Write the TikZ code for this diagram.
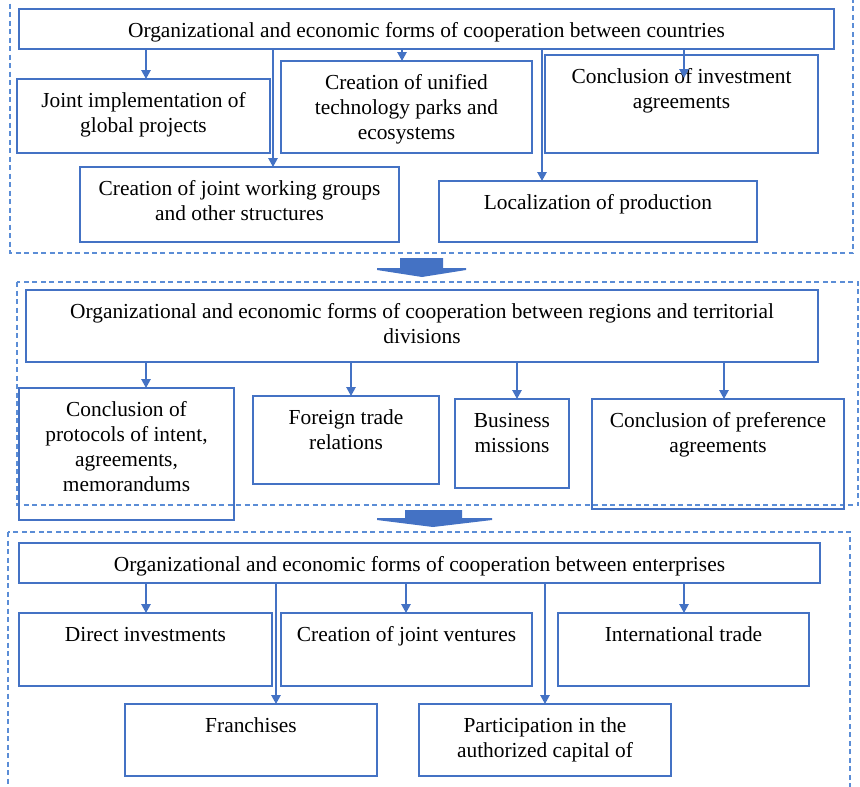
\documentclass[tikz,border=0pt]{standalone}
\usepackage{fontspec}
\setmainfont{Liberation Serif}
\usetikzlibrary{arrows.meta}
\definecolor{boxblue}{HTML}{4472C4}
\definecolor{dashblue}{HTML}{5B8DD6}

\tikzset{
  bx/.style={draw=boxblue, line width=1.3pt, inner sep=0pt, outer sep=0pt,
             font=\fontsize{21.4}{25}\selectfont},
  conn/.style={draw=boxblue, line width=1.3pt, -{Triangle[width=9.5pt,length=9pt]}},
  frame/.style={draw=dashblue, line width=1.2pt, dash pattern=on 5pt off 3.5pt},
  bigarrow/.style={fill=boxblue, draw=none}
}

% \blk{name}{x1}{y1}{x2}{y2}{text}: framed box, text set from the top
\newcommand\blk[6]{%
  \node[bx, anchor=north west,
        minimum width=\the\numexpr#4-#2\relax pt,
        minimum height=\the\numexpr#5-#3\relax pt] (#1) at (#2,#3)
  {\parbox[c][\the\numexpr#5-#3\relax pt][t]{\the\numexpr#4-#2\relax pt}%
     {\centering\rule{0pt}{28.5pt}#6}};}

\begin{document}
\begin{tikzpicture}[x=1pt, y=-1pt]
\useasboundingbox (0,0) rectangle (860,787);
\clip (0,0) rectangle (860,787);

% dashed frames of the three levels
\draw[frame] (10,-5) rectangle (853,253);
\draw[frame] (17,282) rectangle (858,505);
\draw[frame] (8,532) rectangle (850,800);

% level 1: countries
\blk{t1}{19}{9}{834}{49}{Organizational and economic forms of cooperation between countries}
\blk{jip}{17}{79}{270}{153}{Joint implementation of\\global projects}
\blk{tp}{281}{61}{532}{153}{Creation of unified\\technology parks and\\ecosystems}
\blk{inv}{545}{55}{818}{153}{Conclusion of investment\\agreements}
\blk{wg}{80}{167}{399}{242}{Creation of joint working groups\\and other structures}
\blk{loc}{439}{181}{757}{242}{Localization of production}
\coordinate (invtip) at (684,78);

\draw[conn] (t1.south -| 146,0) -- (jip.north -| 146,0);
\draw[conn] (t1.south -| 273,0) -- (wg.north -| 273,0);
\draw[conn] (t1.south -| 402,0) -- (tp.north -| 402,0);
\draw[conn] (t1.south -| 684,0) -- (invtip);
\draw[conn] (t1.south -| 542,0) -- (loc.north -| 542,0);

% level 2: regions and territorial divisions
\blk{t2}{26}{290}{818}{362}{Organizational and economic forms of cooperation between regions and territorial\\divisions}
\blk{prot}{19}{388}{234}{520}{Conclusion of\\protocols of intent,\\agreements,\\memorandums}
\blk{ftr}{253}{396}{439}{484}{Foreign trade\\relations}
\blk{bm}{455}{399}{569}{488}{Business\\missions}
\blk{pref}{592}{399}{844}{509}{Conclusion of preference\\agreements}

\draw[conn] (t2.south -| 146,0) -- (prot.north -| 146,0);
\draw[conn] (t2.south -| 351,0) -- (ftr.north -| 351,0);
\draw[conn] (t2.south -| 517,0) -- (bm.north -| 517,0);
\draw[conn] (t2.south -| 724,0) -- (pref.north -| 724,0);

% level 3: enterprises
\blk{t3}{19}{543}{820}{583}{Organizational and economic forms of cooperation between enterprises}
\blk{di}{19}{613}{272}{686}{Direct investments}
\blk{jv}{281}{613}{532}{686}{Creation of joint ventures}
\blk{it}{558}{613}{809}{686}{International trade}
\blk{fr}{125}{704}{377}{776}{Franchises}
\blk{cap}{419}{704}{671}{776}{Participation in the\\authorized capital of}

\draw[conn] (t3.south -| 146,0) -- (di.north -| 146,0);
\draw[conn] (t3.south -| 276,0) -- (fr.north -| 276,0);
\draw[conn] (t3.south -| 406,0) -- (jv.north -| 406,0);
\draw[conn] (t3.south -| 545,0) -- (cap.north -| 545,0);
\draw[conn] (t3.south -| 684,0) -- (it.north -| 684,0);

% block arrows between the levels
\fill[bigarrow] (400,258) -- (443,258) -- (443,268) -- (466,268) -- (466,270)
  -- (422,277) -- (377,270) -- (377,268) -- (400,268) -- cycle;
\fill[bigarrow] (405,510) -- (462,510) -- (462,518) -- (492,518) -- (492,520)
  -- (433,527) -- (377,520) -- (377,518) -- (405,518) -- cycle;
\end{tikzpicture}
\end{document}
